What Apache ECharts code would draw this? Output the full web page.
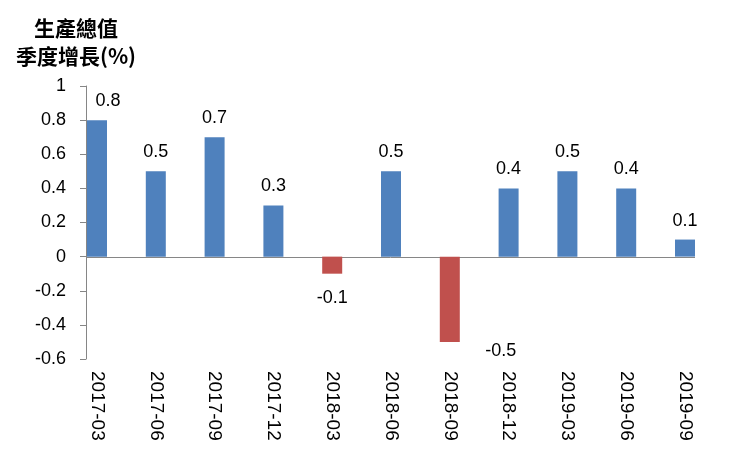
<!DOCTYPE html>
<html><head><meta charset="utf-8">
<script src="https://cdn.jsdelivr.net/npm/echarts@6/dist/echarts.min.js"></script>
<style>html,body{margin:0;padding:0;background:#fff}#c{width:749px;height:450px}</style>
</head><body><div id="c"></div>
<script>
const categories = ['2017-03','2017-06','2017-09','2017-12','2018-03','2018-06','2018-09','2018-12','2019-03','2019-06','2019-09'];
const values = [0.8, 0.5, 0.7, 0.3, -0.1, 0.5, -0.5, 0.4, 0.5, 0.4, 0.1];
const yMin = -0.6, yMax = 1, yStep = 0.2;
const titleLines = ['生產總值', '季度增長(%)'];

const BLUE = '#4F81BD', RED = '#C0504D', AXIS = '#868686';
const FONT = 'Liberation Sans';
// manual label placement tweaks (as in the original)
const labelTweaks = { 0: {offset: [11, 0]}, 4: {distance: 15}, 6: {distance: 0, offset: [51, 0]} };

const chart = echarts.init(document.getElementById('c'), null, {renderer: 'canvas'});
const seriesData = values.map((v, i) => {
  const t = labelTweaks[i] || {};
  return {
    value: v,
    itemStyle: {color: v < 0 ? RED : BLUE},
    label: {
      position: v < 0 ? 'bottom' : 'top',
      distance: t.distance != null ? t.distance : 10,
      offset: t.offset || [0, 0]
    }
  };
});

const titleGraphic = {type: 'text', x: 76, y: 14, z: 10,
  style: {text: titleLines.join('\n'), fill: '#000', font: 'bold 21px "Noto Sans CJK TC"', align: 'center', verticalAlign: 'top', lineHeight: 28}};

chart.setOption({
  animation: false,
  backgroundColor: '#fff',
  grid: {left: 97, right: 64, top: 86, bottom: 91, containLabel: false},
  graphic: [titleGraphic],
  xAxis: {
    type: 'category', data: categories, boundaryGap: false,
    axisLine: {show: false, onZero: false},
    axisTick: {show: false},
    axisLabel: {rotate: -90, margin: 12, color: '#000', fontFamily: FONT, fontSize: 19, interval: 0},
    splitLine: {show: false}
  },
  yAxis: {
    type: 'value', min: yMin, max: yMax, interval: yStep, offset: 11,
    axisLine: {show: true, lineStyle: {color: AXIS}},
    axisTick: {show: true, length: 6, lineStyle: {color: AXIS}},
    splitLine: {show: false},
    axisLabel: {margin: 20, color: '#000', fontFamily: FONT, fontSize: 18,
      formatter: v => String(+(+v).toFixed(1))}
  },
  series: [{
    type: 'bar', data: seriesData, barWidth: 20, clip: false,
    label: {show: true, color: '#000', fontFamily: FONT, fontSize: 18, formatter: p => String(p.value)}
  }]
});

const y0 = Math.round(chart.convertToPixel({yAxisIndex: 0}, 0)) + 0.5;
const xa = chart.convertToPixel({xAxisIndex: 0}, categories[0]);
const xb = chart.convertToPixel({xAxisIndex: 0}, categories[categories.length - 1]);
chart.setOption({graphic: [
  titleGraphic,
  {type: 'line', z: 1, shape: {x1: xa - 11, y1: y0, x2: xb + 10, y2: y0}, style: {stroke: AXIS, lineWidth: 1}}
]});
</script></body></html>
